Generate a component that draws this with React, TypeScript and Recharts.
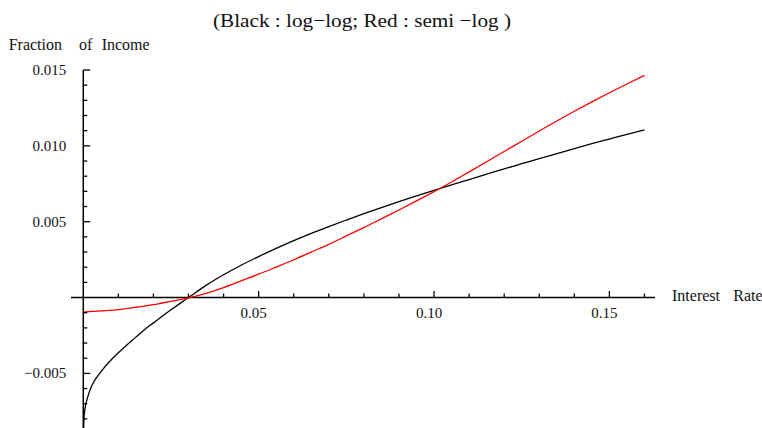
import React from 'react';
import { LineChart, Line, XAxis, YAxis, ReferenceLine, ReferenceDot } from 'recharts';

// Interest rate grid (x)
const rates = [
  0, 0.00005, 0.0002, 0.0005, 0.001, 0.0015, 0.002, 0.003, 0.004, 0.005, 0.0075, 0.01, 0.0125, 0.015, 0.0175,
  0.02, 0.0225, 0.025, 0.0275, 0.03, 0.035, 0.04, 0.045, 0.05, 0.055, 0.06, 0.065,
  0.07, 0.075, 0.08, 0.085, 0.09, 0.095, 0.1, 0.105, 0.11, 0.115, 0.12, 0.125, 0.13,
  0.135, 0.14, 0.145, 0.15, 0.155, 0.16,
];

// Black: log-log (fraction of income)
const blackLogLog: (number | null)[] = [
  null, -0.0092, -0.008, -0.0073, -0.00678, -0.00638, -0.00604, -0.00556, -0.00521, -0.0049, -0.00422, -0.00364, -0.00311, -0.00261, -0.0021,
  -0.00167, -0.00123, -0.00081, -0.0004, 0.0, 0.0008, 0.0015, 0.00213, 0.0027, 0.00324, 0.00375, 0.00423,
  0.00468, 0.00511, 0.00553, 0.00593, 0.00632, 0.0067, 0.00707, 0.00743, 0.00778, 0.00813, 0.00848, 0.00882, 0.00916,
  0.00949, 0.00982, 0.01014, 0.01045, 0.01076, 0.01105,
];

// Red: semi-log (fraction of income)
const redSemiLog: number[] = [
  -0.00095, -0.00095, -0.00095, -0.00094, -0.00094, -0.00093, -0.00092, -0.00091, -0.0009, -0.00088, -0.00085, -0.0008, -0.00072, -0.00064, -0.00056,
  -0.00047, -0.00036, -0.00025, -0.00014, -0.00002, 0.00028, 0.00066, 0.0011, 0.00154, 0.00201, 0.00249, 0.003,
  0.00351, 0.00406, 0.00461, 0.00519, 0.00577, 0.00637, 0.00698, 0.00762, 0.00828, 0.00895, 0.00963, 0.0103, 0.01098,
  0.01164, 0.01228, 0.0129, 0.0135, 0.01408, 0.01465,
];

const xMajorTicks = [0.05, 0.1, 0.15];
const xTickLabels = ['0.05', '0.10', '0.15'];
const xMinorTicks = [0.01, 0.02, 0.03, 0.04, 0.06, 0.07, 0.08, 0.09, 0.11, 0.12, 0.13, 0.14, 0.16];

const yMajorTicks = [0.015, 0.01, 0.005, -0.005];
const yTickLabels = ['0.015', '0.010', '0.005', '\u22120.005'];
const yMinorTicks = [
  0.014, 0.013, 0.012, 0.011, 0.009, 0.008, 0.007, 0.006, 0.004, 0.003, 0.002, 0.001,
  -0.001, -0.002, -0.003, -0.004, -0.006, -0.007, -0.008,
];

const xDomain: [number, number] = [-0.0035, 0.163];
const yDomain: [number, number] = [-0.0086, 0.015];

const title = '(Black : log\u2212log; Red : semi \u2212log )';
const yAxisName = ['Fraction', 'of', 'Income'];
const xAxisName = ['Interest', 'Rate'];

const data = rates.map((r, i) => ({ r, black: blackLogLog[i], red: redSemiLog[i] }));

const FONT = "'Liberation Serif', 'Times New Roman', serif";
const TEXT = '#111';

const xTickMark = (len: number) => (p: any) => (
  <line x1={p.cx} y1={p.cy} x2={p.cx} y2={p.cy - len} stroke="#000" strokeWidth={1.3} />
);
const yTickMark = (len: number) => (p: any) => (
  <line x1={p.cx} y1={p.cy} x2={p.cx + len} y2={p.cy} stroke="#000" strokeWidth={1.3} />
);
const xLabel = (text: string) => (p: any) => (
  <text x={p.cx - 5} y={p.cy + 20.5} textAnchor="middle" fontFamily={FONT} fontSize={15} fill={TEXT}>
    {text}
  </text>
);
const yLabel = (text: string) => (p: any) => (
  <text x={p.cx - 17} y={p.cy + 5} textAnchor="end" fontFamily={FONT} fontSize={15} fill={TEXT}>
    {text}
  </text>
);
const yName = (p: any) => (
  <text y={p.cy - 19.7} fontFamily={FONT} fontSize={16} fill={TEXT}>
    <tspan x={p.cx - 74.6}>{yAxisName[0]}</tspan>
    <tspan x={p.cx - 4.3}>{yAxisName[1]}</tspan>
    <tspan x={p.cx + 18.4}>{yAxisName[2]}</tspan>
  </text>
);
const xName = (p: any) => (
  <text y={p.cy + 3} fontFamily={FONT} fontSize={16} fill={TEXT}>
    <tspan x={p.cx + 17}>{xAxisName[0]}</tspan>
    <tspan x={p.cx + 78.3}>{xAxisName[1]}</tspan>
  </text>
);

export default function App() {
  return (
    <div style={{ position: 'absolute', left: 0, top: 0, width: 762, height: 428, background: '#fff' }}>
      <LineChart width={762} height={428} data={data} margin={{ top: 70, right: 107, bottom: 0, left: 71 }}>
        <XAxis type="number" dataKey="r" domain={xDomain} hide height={0} allowDataOverflow />
        <YAxis type="number" domain={yDomain} hide width={0} allowDataOverflow />
        <ReferenceLine y={0} stroke="#000" strokeWidth={1.5} />
        <ReferenceLine x={0} stroke="#000" strokeWidth={1.5} />
        {xMajorTicks.map((t, i) => (
          <ReferenceDot key={'xM' + i} x={t} y={0} r={0} shape={xTickMark(6.5)} ifOverflow="visible" />
        ))}
        {xMinorTicks.map((t, i) => (
          <ReferenceDot key={'xm' + i} x={t} y={0} r={0} shape={xTickMark(4)} ifOverflow="visible" />
        ))}
        {yMajorTicks.map((t, i) => (
          <ReferenceDot key={'yM' + i} x={0} y={t} r={0} shape={yTickMark(7)} ifOverflow="visible" />
        ))}
        {yMinorTicks.map((t, i) => (
          <ReferenceDot key={'ym' + i} x={0} y={t} r={0} shape={yTickMark(4)} ifOverflow="visible" />
        ))}
        {xMajorTicks.map((t, i) => (
          <ReferenceDot key={'xl' + i} x={t} y={0} r={0} shape={xLabel(xTickLabels[i])} ifOverflow="visible" />
        ))}
        {yMajorTicks.map((t, i) => (
          <ReferenceDot key={'yl' + i} x={0} y={t} r={0} shape={yLabel(yTickLabels[i])} ifOverflow="visible" />
        ))}
        <ReferenceDot x={0} y={yDomain[1]} r={0} shape={yName} ifOverflow="visible" />
        <ReferenceDot x={xDomain[1]} y={0} r={0} shape={xName} ifOverflow="visible" />
        <Line type="monotone" dataKey="black" stroke="#000" strokeWidth={1.3} dot={false} isAnimationActive={false} />
        <Line type="monotone" dataKey="red" stroke="#ff0000" strokeWidth={1.3} dot={false} isAnimationActive={false} />
      </LineChart>
      <svg width={762} height={428} style={{ position: 'absolute', left: 0, top: 0, pointerEvents: 'none' }}>
        <text
          x={362}
          y={27}
          textAnchor="middle"
          fontFamily={FONT}
          fontSize={19}
          fill={TEXT}
          textLength={298}
          lengthAdjust="spacingAndGlyphs"
        >
          {title}
        </text>
      </svg>
    </div>
  );
}
